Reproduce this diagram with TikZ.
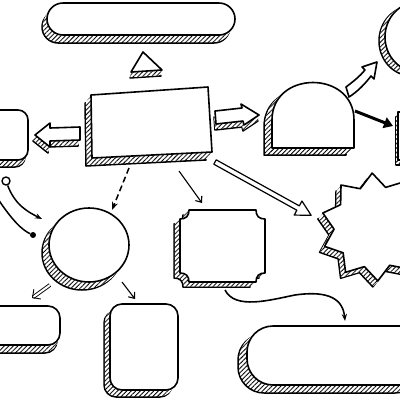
\documentclass[tikz,border=0pt]{standalone}
\usetikzlibrary{patterns.meta,arrows.meta}
\tikzset{hatch/.style={draw=black,line width=1.5pt,pattern={Lines[angle=45,distance=3.2pt,line width=0.9pt]}},
  shade/.style={pattern={Lines[angle=45,distance=3.2pt,line width=0.9pt]}},
  face/.style={draw=black,line width=1.6pt,fill=white},
  link/.style={line width=1.1pt,-{Straight Barb[length=5pt,width=8pt]}}}
\newcommand{\solid}[4][]{%
  \draw[hatch,#1,shift={(#2,#3)}] #4;
  \foreach \t in {0.85,0.7,0.55,0.4,0.25,0.1}{%
    \fill[white,#1,shift={(\t*#2,\t*#3)}] #4;
    \fill[shade,#1,shift={(\t*#2,\t*#3)}] #4;}
  \draw[face,#1] #4;}

\begin{document}
\begin{tikzpicture}[x=1pt,y=-1pt,line join=round]
\clip (0,0) rectangle (400,400);
% top bar and triangle
\solid[rounded corners=16]{-5}{8}{(47,3) rectangle (235,35)}
\solid{-1}{6}{(143,52)--(162,70)--(131,72)--cycle}
% centre box
\solid{-6}{8}{(91,95)--(208,87)--(212,152)--(92,158)--cycle}
% left boxes
\solid[rounded corners=10]{-3}{7}{(-20,110) rectangle (28,160)}
\solid[rounded corners=12]{-3}{8}{(-20,306) rectangle (60,345)}
\solid[rounded corners=12]{-6}{7}{(110,304) rectangle (178,390)}
% block arrows
\solid{-2}{6}{(35,135)--(50,123)--(50,128)--(80,127)--(80,140)--(50,141)--(50,147)--cycle}
\solid{-1}{6}{(215,111)--(242,108)--(241,104)--(259,115)--(244,125)--(243,121)--(216,124)--cycle}
% dome
\solid{-8}{7}{(272,148)--(272,120) .. controls (272,70) and (354,70) .. (354,120)--(354,148)--cycle}
\draw[face] (346,87) .. controls (354,81) and (360,76) .. (365,70)--(362,67)--(377,62)--(374,79)--(371,76) .. controls (365,84) and (357,92) .. (349,97)--cycle;
% right edge shapes
\solid{-6}{4}{(418,37) ellipse[x radius=33,y radius=35]}
\solid{-2}{5}{(398,112) rectangle (440,160)}
% circle
\solid{-7}{8}{(89,245) ellipse[x radius=40,y radius=37]}
% ticket
\solid{-6}{5}{(189,210)--(256,210) .. controls (256,216) and (259,219) .. (265,219)--(265,273) .. controls (259,273) and (256,276) .. (256,282)--(189,282) .. controls (189,276) and (186,273) .. (180,273)--(180,219) .. controls (186,219) and (189,216) .. (189,210)--cycle}
% star
\solid[shift={(375,227)}]{-5}{6}{(-93:54) \foreach \a in {-93,-129,...,-417} {--(\a-18:41)--(\a-36:54)} --cycle}
% bottom bar
\solid[rounded corners=26]{-9}{8}{(247,326) rectangle (430,385)}
% long hollow arrow
\begin{scope}[shift={(215,162)},rotate=-29]
\draw[face,line width=1.2pt] (0,-2.5)--(95,-2.5)--(95,-8)--(110,0)--(95,8)--(95,2.5)--(0,2.5)--cycle;
\end{scope}
% connectors
\coordinate (p1) at (129,168);
\coordinate (p2) at (112,210);
\coordinate (p3) at (179,171);
\coordinate (p4) at (202,203);
\coordinate (p5) at (355,111);
\coordinate (p6) at (393,126);
\coordinate (p7) at (122,282);
\coordinate (p8) at (135,299);
\coordinate (p9) at (50,285);
\coordinate (p10) at (32,298);
\coordinate (p11) at (225,290);
\coordinate (p12) at (345,321);
\coordinate (p13) at (42,219);
\coordinate (p14) at (-2,199);
\node[circle,draw,line width=1.4pt,fill=white,inner sep=0pt,minimum size=8pt] (o1) at (6,181) {};
\node[circle,fill=black,inner sep=0pt,minimum size=6pt] (o2) at (33,235) {};
\draw[dash pattern=on 6pt off 3.5pt,line width=1.5pt,-{Stealth[length=8pt]}] (p1)--(p2);
\draw[link] (p3)--(p4);
\draw[link] (p7)--(p8);
\draw[line width=3pt,-{Triangle[length=9pt,width=11pt]}] (p5)--(p6);
\draw[line width=0.9pt,double distance=2pt,-{Straight Barb[length=6pt,width=12pt]}] (p9)--(p10);
\draw[line width=1.6pt,-{Stealth[length=7pt]}] (p11) .. controls (235,310) and (270,300) .. (295,295) .. controls (330,290) and (343,300) .. (p12);
\draw[line width=1.5pt,-{Stealth[length=7pt]}] (o1) .. controls (15,205) and (28,212) .. (p13);
\draw[line width=1.5pt] (p14) .. controls (12,220) and (22,230) .. (o2);
\end{tikzpicture}
\end{document}
